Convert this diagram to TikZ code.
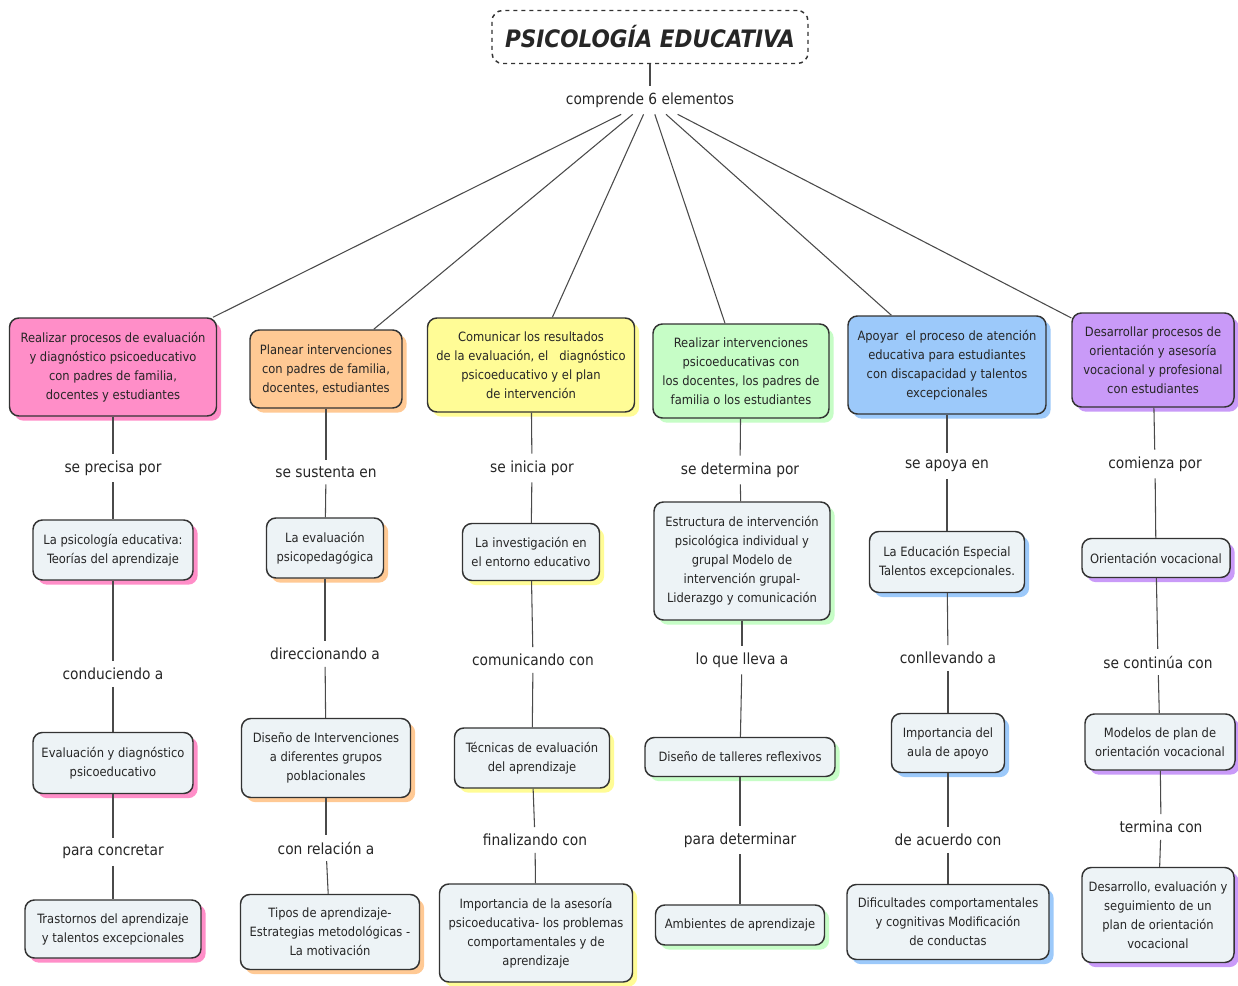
\documentclass[tikz,border=0pt]{standalone}
\usepackage{fontspec}
\setmainfont{DejaVu Sans Condensed}
\usetikzlibrary{shadows}

\begin{document}
\begin{tikzpicture}[x=0.75pt,y=-0.75pt]
  \definecolor{pink}{HTML}{FF8EC8}
  \definecolor{peach}{HTML}{FFC994}
  \definecolor{lemon}{HTML}{FFFC96}
  \definecolor{mint}{HTML}{C6FDC6}
  \definecolor{sky}{HTML}{9CC9FA}
  \definecolor{lilac}{HTML}{C99AF8}
  \definecolor{paper}{HTML}{EDF3F6}
  \definecolor{ink}{HTML}{262626}
  \definecolor{edge}{HTML}{333333}
  \definecolor{wire}{HTML}{4A4A4A}
  \tikzset{sz/.style 2 args={minimum width=#1*0.75pt, minimum height=#2*0.75pt},
           glow/.style={drop shadow={shadow xshift=3.5pt, shadow yshift=-3.5pt, fill=#1, draw=none, opacity=1}}}
  \tikzstyle{box}       = [rectangle, rounded corners=7pt, draw=edge, line width=1.1pt, align=center, text=ink, inner sep=2pt, font=\fontsize{9.6}{14.2}\selectfont]
  \tikzstyle{concept}   = [box, fill=paper]
  \tikzstyle{linkword}  = [text=ink, inner sep=5pt, font=\fontsize{11.5}{14}\selectfont]
  \tikzstyle{connector} = [line width=0.8pt, draw=wire]
  \fill [white] (0,0) rectangle (1238,985);
  \useasboundingbox (0,0) rectangle (1238,985);
  % title and the six elements
  \node [box, rounded corners=8pt, dashed, fill=white, sz={316}{53}, font=\fontsize{18}{20}\selectfont\bfseries\itshape] (title) at (650,37) {PSICOLOGÍA EDUCATIVA};
  \node [linkword] (comp) at (650,100) {comprende 6 elementos};
  \node [box, fill=pink,  glow=pink,  sz={207}{98}] (eval)   at (113,367)  {Realizar procesos de evaluación\\y diagnóstico psicoeducativo\\con padres de familia,\\docentes y estudiantes};
  \node [box, fill=peach, glow=peach, sz={152}{78}] (planear) at (326,369) {Planear intervenciones\\con padres de familia,\\docentes, estudiantes};
  \node [box, fill=lemon, glow=lemon, sz={207}{94}] (comunicar) at (531,365) {Comunicar los resultados\\de la evaluación, el\ \ \ diagnóstico\\psicoeducativo y el plan\\de intervención};
  \node [box, fill=mint,  glow=mint,  sz={176}{94}] (intervenir) at (741,371) {Realizar intervenciones\\psicoeducativas con\\los docentes, los padres de\\familia o los estudiantes};
  \node [box, fill=sky,   glow=sky,   sz={198}{98}] (apoyar) at (947,365) {Apoyar\ \ el proceso de atención\\educativa para estudiantes\\con discapacidad y talentos\\excepcionales};
  \node [box, fill=lilac, glow=lilac, sz={162}{94}] (orientar) at (1153,360) {Desarrollar procesos de\\orientación y asesoría\\vocacional y profesional\\con estudiantes};
  % column 1
  \node [linkword] (precisa) at (113,468) {se precisa por};
  \node [concept, glow=pink, sz={160}{60}] (teorias) at (113,550) {La psicología educativa:\\Teorías del aprendizaje};
  \node [linkword] (conduce) at (113,674) {conduciendo a};
  \node [concept, glow=pink, sz={160}{61}] (diagnos) at (113,763) {Evaluación y diagnóstico\\psicoeducativo};
  \node [linkword] (concreta) at (113,852) {para concretar};
  \node [concept, glow=pink, sz={176}{58}] (trastornos) at (113,929) {Trastornos del aprendizaje\\y talentos excepcionales};
  % column 2
  \node [linkword] (sustenta) at (326,472) {se sustenta en};
  \node [concept, glow=peach, sz={117}{60}] (psicoped) at (325,548) {La evaluación\\psicopedagógica};
  \node [linkword] (direcciona) at (325,654) {direccionando a};
  \node [concept, glow=peach, sz={169}{79}] (disenoint) at (326,758) {Diseño de Intervenciones\\a diferentes grupos\\poblacionales};
  \node [linkword] (relacion) at (326,848) {con relación a};
  \node [concept, glow=peach, sz={179}{75}] (tipos) at (330,932) {Tipos de aprendizaje-\\Estrategias metodológicas -\\La motivación};
  % column 3
  \node [linkword] (inicia) at (532,468) {se inicia por};
  \node [concept, glow=lemon, sz={137}{57}] (investiga) at (531,552) {La investigación en\\el entorno educativo};
  \node [linkword] (comunicando) at (533,660) {comunicando con};
  \node [concept, glow=lemon, sz={155}{60}] (tecnicas) at (532,758) {Técnicas de evaluación\\del aprendizaje};
  \node [linkword] (finaliza) at (535,840) {finalizando con};
  \node [concept, glow=lemon, sz={193}{98}] (asesoria) at (536,933) {Importancia de la asesoría\\psicoeducativa- los problemas\\comportamentales y de\\aprendizaje};
  % column 4
  \node [linkword] (determina) at (740,470) {se determina por};
  \node [concept, glow=mint, sz={176}{118}] (estructura) at (742,561) {Estructura de intervención\\psicológica individual y\\grupal Modelo de\\intervención grupal-\\Liderazgo y comunicación};
  \node [linkword] (lleva) at (742,660) {lo que lleva a};
  \node [concept, glow=mint, sz={190}{39}] (talleres) at (740,757) {Diseño de talleres reflexivos};
  \node [linkword] (paradet) at (740,840) {para determinar};
  \node [concept, glow=mint, sz={169}{40}] (ambientes) at (740,925) {Ambientes de aprendizaje};
  % column 5
  \node [linkword] (apoya) at (947,466) {se apoya en};
  \node [concept, glow=sky, sz={155}{61}] (especial) at (947,562) {La Educación Especial\\Talentos excepcionales.};
  \node [linkword] (conlleva) at (948,658) {conllevando a};
  \node [concept, glow=sky, sz={113}{59}] (aula) at (948,743) {Importancia del\\aula de apoyo};
  \node [linkword] (acuerdo) at (948,840) {de acuerdo con};
  \node [concept, glow=sky, sz={202}{75}] (dificultades) at (948,922) {Dificultades comportamentales\\y cognitivas Modificación\\de conductas};
  % column 6
  \node [linkword] (comienza) at (1155,464) {comienza por};
  \node [concept, glow=lilac, sz={148}{39}] (vocacional) at (1156,558) {Orientación vocacional};
  \node [linkword] (continua) at (1158,662) {se continúa con};
  \node [concept, glow=lilac, sz={150}{56}] (modelos) at (1160,742) {Modelos de plan de\\orientación vocacional};
  \node [linkword] (termina) at (1161,827) {termina con};
  \node [concept, glow=lilac, sz={152}{95}] (seguimiento) at (1158,915) {Desarrollo, evaluación y\\seguimiento de un\\plan de orientación\\vocacional};
  % connectors
  \draw [connector] (title) edge (comp);
  \foreach \elem in {eval, planear, comunicar, intervenir, apoyar, orientar}
    \draw [connector] (comp) -- (\elem);
  \draw [connector] (eval) edge (precisa) (precisa) edge (teorias) (teorias) edge (conduce) (conduce) edge (diagnos) (diagnos) edge (concreta) (concreta) edge (trastornos);
  \draw [connector] (planear) edge (sustenta) (sustenta) edge (psicoped) (psicoped) edge (direcciona) (direcciona) edge (disenoint) (disenoint) edge (relacion) (relacion) edge (tipos);
  \draw [connector] (comunicar) edge (inicia) (inicia) edge (investiga) (investiga) edge (comunicando) (comunicando) edge (tecnicas) (tecnicas) edge (finaliza) (finaliza) edge (asesoria);
  \draw [connector] (intervenir) edge (determina) (determina) edge (estructura) (estructura) edge (lleva) (lleva) edge (talleres) (talleres) edge (paradet) (paradet) edge (ambientes);
  \draw [connector] (apoyar) edge (apoya) (apoya) edge (especial) (especial) edge (conlleva) (conlleva) edge (aula) (aula) edge (acuerdo) (acuerdo) edge (dificultades);
  \draw [connector] (orientar) edge (comienza) (comienza) edge (vocacional) (vocacional) edge (continua) (continua) edge (modelos) (modelos) edge (termina) (termina) edge (seguimiento);
\end{tikzpicture}
\end{document}
